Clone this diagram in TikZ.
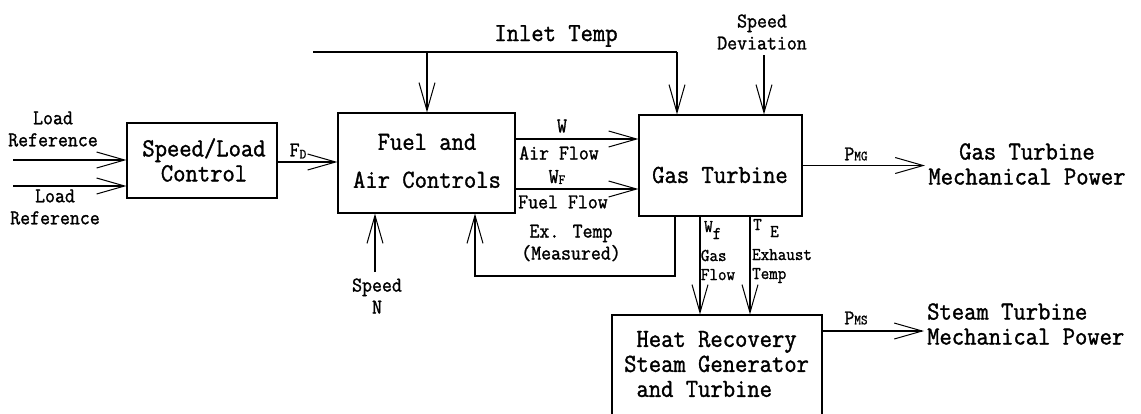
\documentclass[tikz,border=0pt]{standalone}
\usepackage{fontspec}
\newfontfamily\dfont{Latin Modern Mono}[FakeStretch=0.92,FakeBold=1.3]
\usetikzlibrary{arrows.meta}
\newcommand\lowsub[2][-3pt]{\raisebox{#1}{\fontsize{14}{14}\selectfont #2}}
\begin{document}
\begin{tikzpicture}[x=1pt,y=-1pt,
  box/.style={draw, line width=1.2pt, inner sep=0pt},
  arr/.style={line width=1.1pt, -{Straight Barb[length=28pt,width=16pt,line width=1pt]}},
  ln/.style={line width=1.1pt},
  big/.style={font=\dfont\fontsize{26}{25}\selectfont, inner sep=0pt, align=center},
  sm/.style={font=\dfont\fontsize{21}{22}\selectfont, inner sep=0pt, align=center},
  xs/.style={font=\dfont\fontsize{18}{19}\selectfont, inner sep=0pt, align=left},
]
\useasboundingbox (0,0) rectangle (1141,413);
\fill[white] (0,0) rectangle (1141,413);

% boxes
\node[box, minimum width=150pt, minimum height=75pt] (sl) at (202,160.5) {};
\node[box, minimum width=177pt, minimum height=100pt] (fa) at (426.5,163) {};
\node[box, minimum width=163pt, minimum height=101pt] (gt) at (720.5,165.5) {};
\node[box, minimum width=210pt, minimum height=130pt] (hr) at (717,380) {};

% box texts
\node[big] (slt) at (204,160) {Speed/Load\\Control};
\node[big, font=\dfont\fontsize{26}{38}\selectfont] (fat) at (427,161) {Fuel and\\Air Controls};
\node[big] (gtt) at (720,175) {Gas Turbine};
\node[big, align=left, anchor=west] (hrt) at (624,364) {\hphantom{S}Heat Recovery\\Steam Generator\\\hphantom{S}and Turbine};

% load references
\coordinate (lr1) at (13,160);
\coordinate (lr2) at (13,186);
\draw[arr] (lr1) -- (lr1 -| sl.west);
\draw[arr] (lr2) -- (lr2 -| sl.west);
\node[sm] (lrt1) at (53,129) {Load\\Reference};
\node[sm] (lrt2) at (55,207) {Load\\Reference};

% F_D
\coordinate (fd) at (277,162);
\draw[arr] (fd) -- (fd -| fa.west);
\node[sm] (fdt) at (298,151) {F\lowsub[-2pt]{D}};

% inlet temp
\coordinate (it0) at (313,52);
\coordinate (it1) at (677,52);
\coordinate (it2) at (427,52);
\draw[ln] (it0) -- (it1);
\draw[arr] (it1) -- (it1 |- gt.north);
\draw[arr] (it2) -- (it2 |- fa.north);
\node[big] (itt) at (556,36) {Inlet Temp};

% speed deviation
\coordinate (sd) at (764,55);
\draw[arr] (sd) -- (sd |- gt.north);
\node[sm] (sdt) at (762,32) {Speed\\Deviation};

% air flow / fuel flow
\coordinate (af) at (515,139);
\coordinate (ff) at (515,189);
\draw[arr] (af) -- (af -| gt.west);
\draw[arr] (ff) -- (ff -| gt.west);
\node[sm] (wt) at (562,126) {W};
\node[sm] (aft) at (559,153) {Air Flow};
\node[sm] (wft) at (557,177) {W\lowsub[-1pt]{F}};
\node[sm] (fft) at (563,202) {Fuel Flow};

% exhaust temp feedback
\coordinate (ex1) at (675,276);
\coordinate (ex2) at (475,276);
\draw[arr] (ex1 |- gt.south) -- (ex1) -- (ex2) -- (ex2 |- fa.south);
\node[sm] (ext) at (571,243) {Ex. Temp\\(Measured)};

% speed N
\coordinate (sn) at (375,272);
\draw[arr] (sn) -- (sn |- fa.south);
\node[sm] (snt) at (377,296) {Speed\\N};

% gas flow and exhaust temp to HRSG
\coordinate (gf) at (700,0);
\coordinate (et) at (750,0);
\draw[arr] (gf |- gt.south) -- (gf |- hr.north);
\draw[arr] (et |- gt.south) -- (et |- hr.north);
\node[xs, anchor=west] (gft) at (704,230) {W\raisebox{-7pt}{f}};
\node[xs] (gft2) at (718,265) {Gas\\Flow};
\node[xs, anchor=west] (ett) at (753,228) {T\raisebox{-7pt}{ E}};
\node[xs, anchor=west] (ett2) at (752,266) {Exhaust\\Temp};

% mechanical powers
\coordinate (pmg) at (925,0);
\draw[arr] (gt.east) -- (gt.east -| pmg);
\node[sm] (pmgt) at (856,154) {P{\fontsize{14}{14}\selectfont MG}};
\node[big] (gtm) at (1027,164) {\hphantom{M}Gas Turbine\hphantom{M}\\Mechanical Power};

\coordinate (pms) at (822,331);
\coordinate (pmse) at (924,331);
\draw[arr] (pms) -- (pmse);
\node[sm] (pmst) at (856,318) {P{\fontsize{14}{14}\selectfont MS}};
\node[big, align=left, anchor=west] (stm) at (927,324) {Steam Turbine\\Mechanical Power};
\end{tikzpicture}
\end{document}
